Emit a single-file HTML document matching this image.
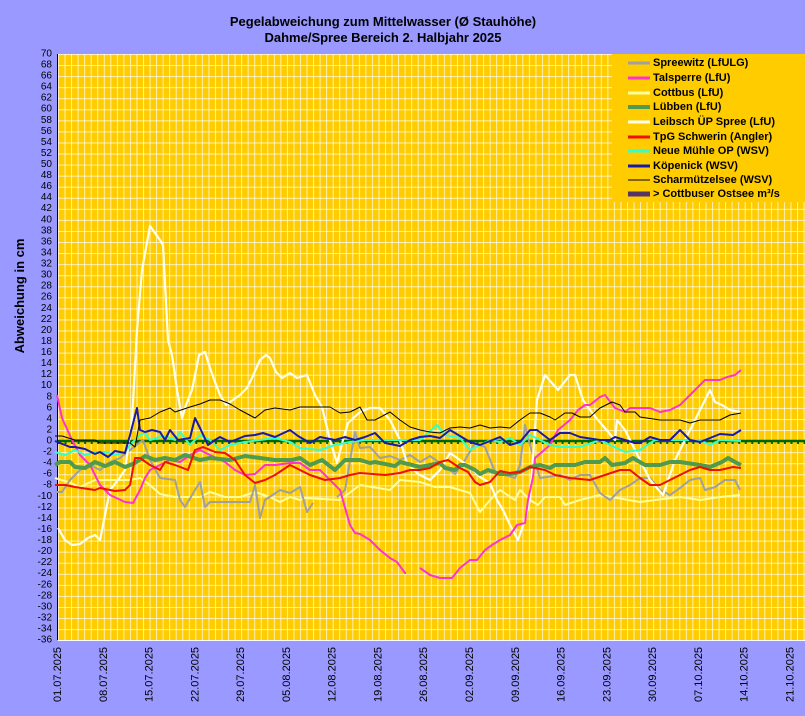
<!DOCTYPE html>
<html><head><meta charset="utf-8"><style>
html,body{margin:0;padding:0;background:#9999ff;}
svg{display:block;font-family:"Liberation Sans",Arial,sans-serif;}
</style></head><body>
<svg width="805" height="716" viewBox="0 0 805 716" xmlns="http://www.w3.org/2000/svg">
<defs>
<pattern id="gv" x="58" y="0" width="6.54" height="716" patternUnits="userSpaceOnUse"><rect x="0" y="0" width="1" height="716" fill="#fff" fill-opacity="0.7"/></pattern>
<pattern id="gh" x="0" y="54" width="805" height="11.06" patternUnits="userSpaceOnUse"><rect x="0" y="0" width="805" height="1" fill="#fff" fill-opacity="0.7"/></pattern>
</defs>
<rect width="805" height="716" fill="#9999ff"/>
<rect x="58" y="54" width="747" height="586" fill="#ffcc00"/>
<rect x="58" y="54" width="747" height="586" fill="url(#gv)"/>
<rect x="58" y="54" width="747" height="586" fill="url(#gh)"/>
<line x1="57.5" y1="54" x2="57.5" y2="640" stroke="#000" stroke-width="1"/>
<line x1="58" y1="640.5" x2="805" y2="640.5" stroke="#fff" stroke-width="1"/>

<text x="383" y="26" font-size="13" font-weight="bold" text-anchor="middle">Pegelabweichung zum Mittelwasser (Ø Stauhöhe)</text>
<text x="383" y="42" font-size="13" font-weight="bold" text-anchor="middle">Dahme/Spree Bereich 2. Halbjahr 2025</text>
<text transform="translate(24,296) rotate(-90)" font-size="13" font-weight="bold" text-anchor="middle">Abweichung in cm</text>

<g font-size="10" text-anchor="end" dominant-baseline="central">
<text x="52" y="54">70</text><text x="52" y="65.1">68</text><text x="52" y="76">66</text><text x="52" y="87.1">64</text><text x="52" y="98.1">62</text><text x="52" y="109.2">60</text><text x="52" y="120.3">58</text><text x="52" y="131.3">56</text><text x="52" y="142.4">54</text><text x="52" y="153.4">52</text><text x="52" y="164.5">50</text><text x="52" y="175.6">48</text><text x="52" y="186.6">46</text><text x="52" y="197.7">44</text><text x="52" y="208.7">42</text><text x="52" y="219.8">40</text><text x="52" y="230.9">38</text><text x="52" y="241.9">36</text><text x="52" y="253">34</text><text x="52" y="264">32</text><text x="52" y="275.1">30</text><text x="52" y="286.2">28</text><text x="52" y="297.2">26</text><text x="52" y="308.3">24</text><text x="52" y="319.3">22</text><text x="52" y="330.4">20</text><text x="52" y="341.5">18</text><text x="52" y="352.5">16</text><text x="52" y="363.6">14</text><text x="52" y="374.6">12</text><text x="52" y="385.7">10</text><text x="52" y="396.8">8</text><text x="52" y="407.8">6</text><text x="52" y="418.9">4</text><text x="52" y="429.9">2</text><text x="52" y="441">0</text><text x="52" y="452.1">-2</text><text x="52" y="463.1">-4</text><text x="52" y="474.2">-6</text><text x="52" y="485.2">-8</text><text x="52" y="496.3">-10</text><text x="52" y="507.4">-12</text><text x="52" y="518.4">-14</text><text x="52" y="529.5">-16</text><text x="52" y="540.5">-18</text><text x="52" y="551.6">-20</text><text x="52" y="562.7">-22</text><text x="52" y="573.7">-24</text><text x="52" y="584.8">-26</text><text x="52" y="595.8">-28</text><text x="52" y="606.9">-30</text><text x="52" y="618">-32</text><text x="52" y="629">-34</text><text x="52" y="640.1">-36</text>
</g>

<g font-size="11" dominant-baseline="central">
<text transform="translate(58,702) rotate(-90)">01.07.2025</text>
<text transform="translate(103.8,702) rotate(-90)">08.07.2025</text>
<text transform="translate(149.6,702) rotate(-90)">15.07.2025</text>
<text transform="translate(195.3,702) rotate(-90)">22.07.2025</text>
<text transform="translate(241.1,702) rotate(-90)">29.07.2025</text>
<text transform="translate(286.9,702) rotate(-90)">05.08.2025</text>
<text transform="translate(332.7,702) rotate(-90)">12.08.2025</text>
<text transform="translate(378.5,702) rotate(-90)">19.08.2025</text>
<text transform="translate(424.2,702) rotate(-90)">26.08.2025</text>
<text transform="translate(470,702) rotate(-90)">02.09.2025</text>
<text transform="translate(515.8,702) rotate(-90)">09.09.2025</text>
<text transform="translate(561.6,702) rotate(-90)">16.09.2025</text>
<text transform="translate(607.4,702) rotate(-90)">23.09.2025</text>
<text transform="translate(653.1,702) rotate(-90)">30.09.2025</text>
<text transform="translate(698.9,702) rotate(-90)">07.10.2025</text>
<text transform="translate(744.7,702) rotate(-90)">14.10.2025</text>
<text transform="translate(790.5,702) rotate(-90)">21.10.2025</text>
</g>

<!-- zero line -->
<line x1="58" y1="441" x2="805" y2="441" stroke="#006600" stroke-width="2.5"/>
<line x1="58" y1="443" x2="805" y2="443" stroke="#006600" stroke-width="2" stroke-dasharray="2,4.54"/>

<g fill="none" stroke-linejoin="round">
<!-- Cottbus light yellow -->
<polyline stroke="#ffff99" stroke-width="2" points="55,478 68,482 80,487 95,480 130,480 140,478 150,485 160,494 175,497 200,497 210,492 225,497 240,497 255,492 270,497 280,502 290,497 300,500 305,498 340,500 360,485 390,490 400,480 420,482 435,487 450,487 470,493 480,512 490,500 500,490 515,500 520,490 530,500 538,505 545,497 560,497 565,505 580,500 600,495 640,502 655,500 680,497 700,500 720,497 740,495"/>
<!-- Spreewitz gray -->
<polyline stroke="#a0a0a0" stroke-width="2" points="55,492 62,492 70,480 80,470 90,465 100,470 110,462 120,458 130,450 143,440 150,460 160,478 175,480 180,500 185,507 195,490 200,482 205,507 210,502 230,502 250,502 255,485 260,518 265,500 280,490 290,493 300,487 307,512 313,503"/>
<polyline stroke="#a0a0a0" stroke-width="2" points="337,497 345,490 355,432 360,448 370,447 380,458 390,456 400,460 410,455 420,462 430,456 440,463 455,474 465,460 475,443 485,447 495,472 505,475 515,478 520,465 525,425 530,445 540,478 560,475 570,480 580,475 590,475 600,493 610,500 620,490 630,485 640,478 650,478 660,490 670,495 680,488 690,480 700,478 705,490 715,487 725,480 735,480 740,490"/>
<!-- Leibsch white -->
<polyline stroke="#ffffee" stroke-width="2.2" points="58,528 65,540 72,545 80,544 88,538 95,535 100,540 105,515 110,490 118,480 125,470 132,420 137,330 142,270 150,226 160,240 163,245 168,340 172,355 177,390 182,418 186,405 192,390 199,355 205,352 210,368 215,382 220,395 226,405 230,402 240,395 247,388 252,378 260,360 266,355 270,358 276,372 282,378 290,373 297,378 307,375 315,395 322,407 330,440 337,463 343,440 348,423 360,412 370,408 380,408 390,420 400,440 407,463 418,474 430,480 440,470 450,453 460,460 470,467 480,477 490,483 497,500 503,510 510,525 518,540 525,520 530,500 537,400 545,375 558,390 570,375 575,375 583,400 590,410 598,420 615,440 617,420 625,430 640,460 650,480 663,495 675,460 690,430 700,410 710,390 715,402 722,405 730,410 740,412"/>
<!-- Talsperre magenta -->
<polyline stroke="#ff33cc" stroke-width="2" points="57,395 62,418 72,440 80,455 90,465 100,485 110,495 125,502 133,503 140,490 145,478 150,470 160,465 170,460 180,462 190,455 200,450 210,455 225,462 235,470 245,475 255,474 265,465 275,465 290,463 300,463 310,470 320,470 330,480 340,490 350,525 355,533 360,534 370,540 380,550 390,558 397,562 405,573 406,573"/>
<polyline stroke="#ff33cc" stroke-width="2" points="420,568 430,575 440,578 452,578 460,568 470,560 477,560 485,550 492,545 500,540 510,535 517,525 525,523 528,500 533,477 535,458 550,445 558,430 570,420 578,410 585,405 590,405 600,397 605,395 615,408 625,412 630,408 650,408 660,412 670,410 680,405 690,395 700,385 705,380 720,380 727,377 735,375 741,370"/>
<!-- Lübben green -->
<polyline stroke="#4f9a4f" stroke-width="4" points="55,465 60,462 70,462 75,467 85,468 95,462 105,466 115,462 125,467 135,463 145,456 155,460 165,458 175,460 185,455 200,460 210,458 230,460 245,456 260,458 275,460 292,460 300,458 310,465 322,460 335,470 345,460 360,460 370,463 375,462 395,466 400,462 420,467 430,465 440,463 445,468 455,470 460,465 465,465 475,470 480,474 488,470 500,474 510,474 520,472 530,467 540,465 550,468 555,465 575,465 585,462 600,462 605,458 612,465 625,463 633,458 645,465 660,465 670,462 680,462 700,465 710,467 722,462 728,458 735,462 741,465"/>
<!-- TpG Schwerin red -->
<polyline stroke="#ee1100" stroke-width="2" points="55,485 65,485 75,487 95,490 100,488 115,491 125,490 130,485 135,458 140,458 150,465 160,470 165,462 175,465 188,470 195,450 203,447 215,452 225,453 235,460 245,475 255,483 265,480 275,475 290,465 300,470 310,475 325,480 340,478 350,475 360,473 385,475 400,473 410,470 420,470 430,468 440,462 448,460 460,468 468,472 475,482 480,485 490,482 500,471 510,473 520,472 530,467 545,470 555,475 570,478 590,480 605,475 620,470 630,470 640,478 650,485 660,485 670,480 680,475 690,470 700,467 710,470 720,470 733,467 741,468"/>
<!-- Neue Mühle cyan -->
<polyline stroke="#33ffcc" stroke-width="2" points="55,452 65,455 75,450 85,455 95,452 105,452 115,455 125,452 130,445 135,440 140,435 145,433 150,440 160,437 165,436 175,440 180,432 190,445 200,435 210,440 220,450 230,445 245,442 260,440 275,438 290,442 300,448 320,450 335,445 350,442 365,440 380,440 405,440 420,440 437,425 445,435 460,438 470,450 480,445 490,440 500,442 510,438 520,445 530,435 540,440 550,445 560,447 580,447 600,440 610,445 625,452 640,450 655,440 670,440 680,440 700,440 710,445 720,440 741,441"/>
<!-- Köpenick blue -->
<polyline stroke="#1a1aaa" stroke-width="2" points="55,441 60,443 70,447 75,447 85,449 95,454 100,452 108,457 115,451 125,453 130,435 137,408 140,430 145,432 152,430 160,432 165,440 170,430 178,440 190,438 195,418 200,428 208,445 215,440 220,437 230,442 245,436 255,435 263,433 275,437 290,430 298,436 310,443 320,437 335,440 345,437 355,440 365,437 375,433 385,443 400,446 410,440 420,437 430,436 440,438 450,430 460,436 470,442 480,445 490,441 500,437 510,445 520,442 530,430 537,430 550,440 560,433 570,433 580,437 600,440 610,440 615,437 625,440 635,443 640,443 650,437 660,440 670,440 680,430 690,440 700,442 710,438 720,434 733,435 741,430"/>
<!-- Scharmützelsee black -->
<polyline stroke="#000" stroke-width="1" points="55,436 62,436 75,440 95,440 100,443 120,443 130,443 135,447 140,420 150,418 160,412 170,408 175,412 190,407 200,404 210,400 220,400 230,404 240,410 255,418 265,410 275,408 290,410 300,407 330,407 340,413 350,412 360,407 367,420 375,420 390,412 400,420 410,427 420,430 430,432 440,433 450,428 460,427 470,428 480,425 490,428 500,427 510,428 520,420 530,413 540,413 550,417 555,420 565,413 572,413 580,417 590,417 600,408 612,402 620,405 625,412 635,412 640,417 660,420 680,420 690,423 700,420 720,420 730,415 741,413"/>
</g>

<!-- legend -->
<rect x="612" y="54" width="193" height="148" fill="#ffcc00"/>
<g stroke-width="3">
<line x1="628" y1="63" x2="650" y2="63" stroke="#a0a0a0"/>
<line x1="628" y1="78" x2="650" y2="78" stroke="#ff33cc"/>
<line x1="628" y1="93" x2="650" y2="93" stroke="#ffff99"/>
<line x1="628" y1="107" x2="650" y2="107" stroke="#4f9a4f" stroke-width="4"/>
<line x1="628" y1="122" x2="650" y2="122" stroke="#ffffee"/>
<line x1="628" y1="137" x2="650" y2="137" stroke="#ee1100"/>
<line x1="628" y1="151" x2="650" y2="151" stroke="#33ffcc"/>
<line x1="628" y1="166" x2="650" y2="166" stroke="#1a1aaa"/>
<line x1="628" y1="180" x2="650" y2="180" stroke="#000" stroke-width="1"/>
<line x1="628" y1="194" x2="650" y2="194" stroke="#553366" stroke-width="5"/>
</g>
<g font-size="11" font-weight="bold" dominant-baseline="central">
<text x="653" y="63">Spreewitz (LfULG)</text>
<text x="653" y="78">Talsperre (LfU)</text>
<text x="653" y="93">Cottbus (LfU)</text>
<text x="653" y="107">Lübben (LfU)</text>
<text x="653" y="122">Leibsch ÜP Spree (LfU)</text>
<text x="653" y="137">TpG Schwerin (Angler)</text>
<text x="653" y="151">Neue Mühle OP (WSV)</text>
<text x="653" y="166">Köpenick (WSV)</text>
<text x="653" y="180">Scharmützelsee (WSV)</text>
<text x="653" y="194">&gt; Cottbuser Ostsee m³/s</text>
</g>
</svg>
</body></html>
